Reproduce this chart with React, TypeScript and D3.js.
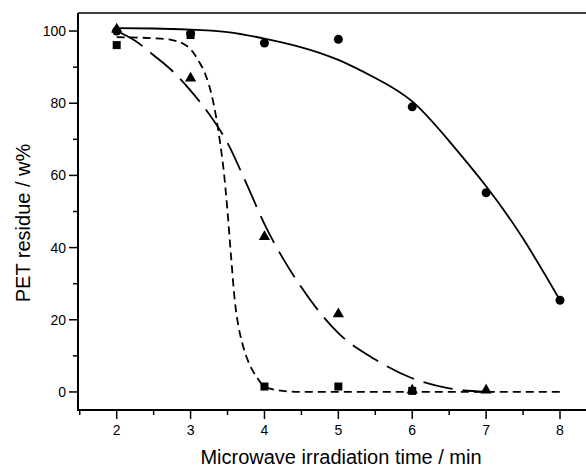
import React from "react";
import * as d3 from "d3";

// measured points
const circlePts: [number, number][] = [[2, 100], [3, 99.3], [4, 96.7], [5, 97.7], [6, 79], [7, 55.2], [8, 25.4]];
const squarePts: [number, number][] = [[2, 96.1], [3, 98.9], [4, 1.5], [5, 1.5], [6, 0.3]];
const trianglePts: [number, number][] = [[2, 100.5], [3, 86.9], [4, 43], [5, 21.6], [6, 0.5], [7, 0.5]];

// fitted curves
const solidFit: [number, number][] = [
  [2, 100.8], [2.5, 100.7], [3, 100.4], [3.5, 99.7], [4, 97.9], [4.5, 95.5], [5, 92],
  [5.5, 87], [6, 80.5], [6.5, 69.5], [7, 57], [7.5, 42.5], [8, 25.4],
];
const longDashFit: [number, number][] = [
  [2, 100], [2.25, 97.3], [2.5, 93.3], [2.75, 89], [3, 83.5], [3.25, 77], [3.5, 69],
  [3.75, 58], [4, 46.5], [4.25, 37], [4.5, 29], [4.75, 22], [5, 16.3], [5.5, 9],
  [6, 3.8], [6.5, 1], [7, 0],
];
const shortDashFit: [number, number][] = [
  [2, 98.3], [2.5, 98], [2.75, 97.5], [2.9, 96.5], [3, 95], [3.1, 92], [3.2, 88], [3.3, 81],
  [3.4, 69], [3.45, 61], [3.5, 50], [3.55, 37], [3.6, 25], [3.65, 18], [3.7, 13.5],
  [3.8, 7.5], [3.9, 4], [4, 1.5], [4.25, 0.3], [4.5, 0], [5, 0], [6, 0], [7, 0], [8.05, 0],
];

const xMajor = [2, 3, 4, 5, 6, 7, 8];
const xMinor = [1.5, 2.5, 3.5, 4.5, 5.5, 6.5, 7.5];
const yMajor = [0, 20, 40, 60, 80, 100];
const yMinor = [10, 30, 50, 70, 90];

const W = 586, H = 470;
const left = 78, top = 13, bottom = 410;

const x = d3.scaleLinear().domain([2, 8]).range([116.7, 560]);
const y = d3.scaleLinear().domain([-5, 105]).range([bottom, top]);

const smooth = d3.line<[number, number]>()
  .x((d) => x(d[0]))
  .y((d) => y(d[1]))
  .curve(d3.curveNatural);

const line = d3.line<[number, number]>()
  .x((d) => x(d[0]))
  .y((d) => y(d[1]))
  .curve(d3.curveMonotoneX);

const tri = d3.symbol().type(d3.symbolTriangle).size(55)();
const font = "'Liberation Sans', Arial, sans-serif";

export default function App() {
  return (
    <svg width={W} height={H} style={{ position: "absolute", left: 0, top: 0, background: "#fff" }}
      fontFamily={font}>
      <rect width={W} height={H} fill="#fff" />
      {/* frame */}
      <line x1={left} x2={W} y1={top} y2={top} stroke="#000" strokeWidth={1.5} />
      <line x1={left} x2={left} y1={top} y2={bottom + 1} stroke="#000" strokeWidth={2} />
      <line x1={left - 1} x2={W} y1={bottom} y2={bottom} stroke="#000" strokeWidth={2} />

      {yMajor.map((v) => (
        <g key={"y" + v}>
          <line x1={left - 9} x2={left} y1={y(v)} y2={y(v)} stroke="#000" strokeWidth={1.5} />
          <text x={left - 12} y={y(v) + 5} fontSize={14} textAnchor="end">{v}</text>
        </g>
      ))}
      {yMinor.map((v) => (
        <line key={"ym" + v} x1={left - 5} x2={left} y1={y(v)} y2={y(v)} stroke="#000" strokeWidth={1.5} />
      ))}
      {xMajor.map((v) => (
        <g key={"x" + v}>
          <line x1={x(v)} x2={x(v)} y1={bottom} y2={bottom + 9} stroke="#000" strokeWidth={1.5} />
          <text x={x(v)} y={bottom + 25} fontSize={14} textAnchor="middle">{v}</text>
        </g>
      ))}
      {xMinor.map((v) => (
        <line key={"xm" + v} x1={x(v)} x2={x(v)} y1={bottom} y2={bottom + 5} stroke="#000" strokeWidth={1.5} />
      ))}

      <text x={341} y={464} fontSize={20} textAnchor="middle">Microwave irradiation time / min</text>
      <text transform="translate(30,223) rotate(-90)" fontSize={20} textAnchor="middle">
        PET residue / w%
      </text>

      {/* fits */}
      <path d={smooth(solidFit) ?? ""} fill="none" stroke="#000" strokeWidth={1.8} />
      <path d={line(longDashFit) ?? ""} fill="none" stroke="#000" strokeWidth={1.8} strokeDasharray="30,10" />
      <path d={line(shortDashFit) ?? ""} fill="none" stroke="#000" strokeWidth={1.8} strokeDasharray="8,5" />

      {/* markers */}
      {circlePts.map((d, i) => (
        <circle key={"c" + i} cx={x(d[0])} cy={y(d[1])} r={4.5} fill="#000" />
      ))}
      {squarePts.map((d, i) => (
        <rect key={"s" + i} x={x(d[0]) - 4} y={y(d[1]) - 4} width={8} height={8} fill="#000" />
      ))}
      {trianglePts.map((d, i) => (
        <path key={"t" + i} d={tri ?? ""} transform={`translate(${x(d[0])},${y(d[1])})`} fill="#000" />
      ))}
    </svg>
  );
}
